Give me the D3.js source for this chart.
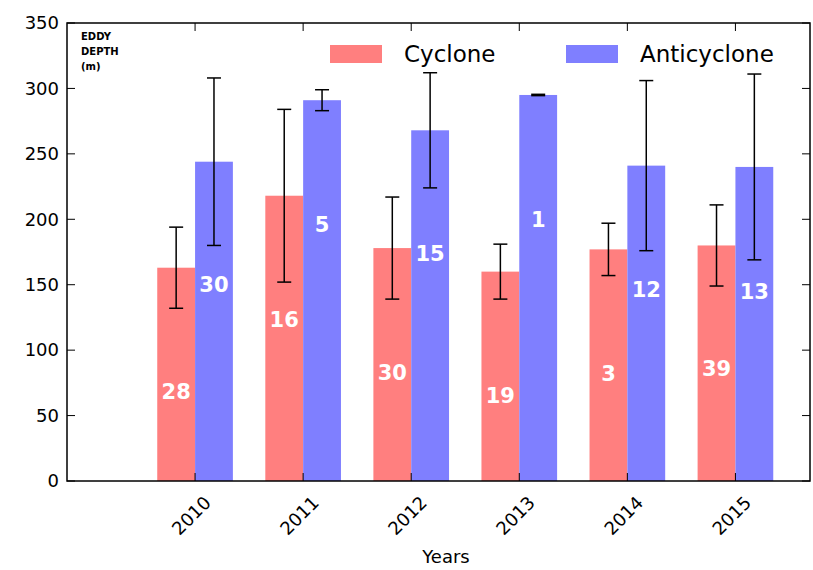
<!DOCTYPE html>
<html><head><meta charset="utf-8">
<script src="https://d3js.org/d3.v7.min.js"></script>
<style>body{margin:0;background:#fff}text{font-family:"DejaVu Sans",sans-serif}</style>
</head><body><div class="canvas"></div>
<script>
const years = ['2010', '2011', '2012', '2013', '2014', '2015'];
const cyclone = [163, 218, 178, 160, 177, 180];
const cycloneErr = [31, 66, 39, 21, 20, 31];
const cycloneCount = [28, 16, 30, 19, 3, 39];
const cycloneLabelAt = [68, 123, 83, 65, 82, 86];
const anti = [244, 291, 268, 295, 241, 240];
const antiErr = [64, 8, 44, 0.5, 65, 71];
const antiCount = [30, 5, 15, 1, 12, 13];
const antiLabelAt = [150, 196, 174, 200, 146, 145];
const yTicks = [0, 50, 100, 150, 200, 250, 300, 350];

const m = { left: 67, right: 810, top: 23, bottom: 481 };
const svg = d3.select('.canvas').append('svg').attr('width', 813).attr('height', 570);

const x = d3.scaleLinear().domain([-1.185, 5.69]).range([m.left, m.right]);
const y = d3.scaleLinear().domain([0, 350]).range([m.bottom, m.top]);
const bw = x(0.35) - x(0);

// bars, drawn per series
const series = [
  { vals: cyclone, err: cycloneErr, cnt: cycloneCount, lab: cycloneLabelAt, color: '#ff7f7f', off: -0.175 },
  { vals: anti, err: antiErr, cnt: antiCount, lab: antiLabelAt, color: '#7f7fff', off: 0.175 }
];
series.forEach(s => {
  const g = svg.append('g');
  g.selectAll('rect').data(s.vals).enter().append('rect')
    .attr('x', (d, i) => x(i + s.off) - bw / 2)
    .attr('width', bw)
    .attr('y', d => y(d))
    .attr('height', d => y(0) - y(d))
    .attr('fill', s.color);
  // error bars
  s.vals.forEach((v, i) => {
    const cx = x(i + s.off);
    g.append('line').attr('x1', cx).attr('x2', cx).attr('y1', y(v - s.err[i])).attr('y2', y(v + s.err[i]))
      .attr('stroke', '#000').attr('stroke-width', 1.5);
    [v - s.err[i], v + s.err[i]].forEach(e => g.append('line')
      .attr('x1', cx - 7).attr('x2', cx + 7).attr('y1', y(e)).attr('y2', y(e))
      .attr('stroke', '#000').attr('stroke-width', 1.5));
    g.append('text').attr('x', cx).attr('y', y(s.lab[i])).attr('dy', '0.35em')
      .attr('text-anchor', 'middle').attr('fill', '#fff').attr('font-weight', 'bold')
      .attr('font-size', 21).text(s.cnt[i]);
  });
});

// frame
svg.append('rect').attr('x', m.left).attr('y', m.top).attr('width', m.right - m.left)
  .attr('height', m.bottom - m.top).attr('fill', 'none').attr('stroke', '#000').attr('stroke-width', 1.5);

// y axis
yTicks.forEach(t => {
  svg.append('line').attr('x1', m.left).attr('x2', m.left + 8).attr('y1', y(t)).attr('y2', y(t)).attr('stroke', '#000');
  svg.append('line').attr('x1', m.right).attr('x2', m.right - 8).attr('y1', y(t)).attr('y2', y(t)).attr('stroke', '#000');
  svg.append('text').attr('x', m.left - 8).attr('y', y(t)).attr('dy', '0.35em').attr('text-anchor', 'end')
    .attr('font-size', 18).text(t);
});

// x axis
years.forEach((yr, i) => {
  const cx = x(i);
  svg.append('line').attr('x1', cx).attr('x2', cx).attr('y1', m.bottom).attr('y2', m.bottom - 8).attr('stroke', '#000');
  svg.append('line').attr('x1', cx).attr('x2', cx).attr('y1', m.top).attr('y2', m.top + 8).attr('stroke', '#000');
  svg.append('text').attr('transform', `translate(${cx + 8},${m.bottom + 14}) rotate(-45)`)
    .attr('text-anchor', 'end').attr('dy', '0.7em').attr('font-size', 18).text(yr);
});
svg.append('text').attr('x', 446).attr('y', 563).attr('text-anchor', 'middle').attr('font-size', 18).text('Years');

// y label
['EDDY', 'DEPTH', '(m)'].forEach((t, i) => svg.append('text').attr('x', 81).attr('y', 40 + i * 15)
  .attr('font-size', 10).attr('font-weight', 'bold').text(t));

// legend
[['Cyclone', '#ff7f7f', 330], ['Anticyclone', '#7f7fff', 566]].forEach(([name, c, lx]) => {
  svg.append('rect').attr('x', lx).attr('y', 45).attr('width', 52).attr('height', 18).attr('fill', c);
  svg.append('text').attr('x', lx + 74).attr('y', 54).attr('dy', '0.35em').attr('font-size', 23).text(name);
});
</script></body></html>
